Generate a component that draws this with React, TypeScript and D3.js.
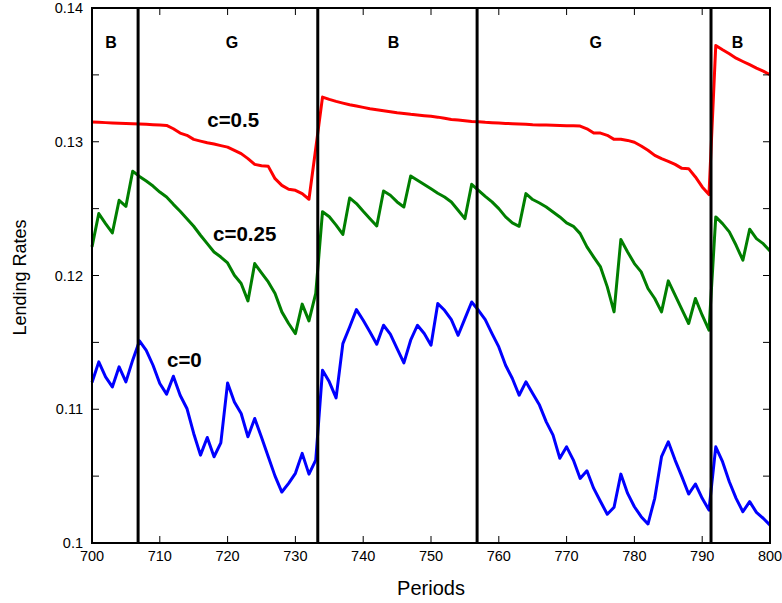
import React, { useEffect, useRef } from 'react';
import * as d3 from 'd3';

// periods 700..800
const periods: number[] = d3.range(700, 801);

const rateC0: number[] = [
  0.1120, 0.11354, 0.11242, 0.11167, 0.11317, 0.11205, 0.11367, 0.11511, 0.11441, 0.11329,
  0.11193, 0.11113, 0.11247, 0.11105, 0.11006, 0.10819, 0.10657, 0.10789, 0.10645, 0.10749,
  0.11197, 0.11055, 0.10968, 0.10794, 0.10931, 0.1079, 0.10645, 0.1050, 0.10381, 0.10446,
  0.10521, 0.10670, 0.10515, 0.10620, 0.11292, 0.11205, 0.11085, 0.11491, 0.11615, 0.11745,
  0.11665, 0.11578, 0.11486, 0.11628, 0.11561, 0.11454, 0.11347, 0.11516, 0.11628, 0.11566,
  0.11479, 0.11790, 0.11740, 0.11670, 0.11553, 0.11678, 0.11802, 0.11740, 0.11670, 0.11566,
  0.11466, 0.11329, 0.11230, 0.11105, 0.11205, 0.11118, 0.11031, 0.10906, 0.10807, 0.10633,
  0.10719, 0.10620, 0.10483, 0.10540, 0.10408, 0.10310, 0.10215, 0.10267, 0.10515, 0.10371,
  0.10271, 0.10197, 0.10142, 0.10334, 0.10645, 0.10757, 0.10620, 0.10496, 0.10366, 0.10441,
  0.10334, 0.10246, 0.10719, 0.10608, 0.10458, 0.10334, 0.10234, 0.10309, 0.10229, 0.10185,
  0.10134,
];

const rateC025: number[] = [
  0.12214, 0.12463, 0.12388, 0.12318, 0.12562, 0.12517, 0.12779, 0.12741, 0.12706, 0.12669,
  0.12624, 0.12587, 0.12532, 0.12480, 0.12425, 0.12368, 0.12301, 0.12238, 0.12176, 0.12138,
  0.12094, 0.12002, 0.11940, 0.11810, 0.12089, 0.1202, 0.11952, 0.11866, 0.11728, 0.11641,
  0.11566, 0.11786, 0.11661, 0.11866, 0.12477, 0.12439, 0.12377, 0.12307, 0.12580, 0.12538,
  0.12480, 0.12425, 0.12370, 0.12632, 0.12600, 0.12550, 0.12512, 0.12744, 0.12712, 0.12680,
  0.12648, 0.12615, 0.12587, 0.12550, 0.12488, 0.12425, 0.12682, 0.12637, 0.12592, 0.12550,
  0.12500, 0.12438, 0.12393, 0.12368, 0.12612, 0.12568, 0.12542, 0.12512, 0.12475, 0.12438,
  0.12393, 0.12368, 0.12313, 0.12214, 0.12138, 0.12064, 0.11915, 0.11728, 0.12269, 0.12176,
  0.12089, 0.12027, 0.11903, 0.11828, 0.11728, 0.11960, 0.11853, 0.11746, 0.11641, 0.11828,
  0.11703, 0.11591, 0.12438, 0.12388, 0.12326, 0.12226, 0.12114, 0.12346, 0.12276, 0.12238,
  0.12183,
];

const rateC05: number[] = [
  0.13147, 0.13145, 0.13143, 0.13141, 0.13139, 0.13137, 0.13135, 0.13132, 0.13130, 0.13128,
  0.13125, 0.13122, 0.13097, 0.13065, 0.13048, 0.13018, 0.13005, 0.12993, 0.12983, 0.12971,
  0.12960, 0.12936, 0.12911, 0.12874, 0.12831, 0.12820, 0.12816, 0.12724, 0.12674, 0.12645,
  0.12637, 0.12612, 0.12570, 0.12950, 0.13334, 0.13317, 0.13302, 0.13289, 0.13277, 0.13267,
  0.13257, 0.13247, 0.13240, 0.13232, 0.13225, 0.13217, 0.13212, 0.13205, 0.13200, 0.13195,
  0.13190, 0.13184, 0.13175, 0.13167, 0.13162, 0.13157, 0.13152, 0.13150, 0.13145, 0.13142,
  0.13140, 0.13137, 0.13135, 0.13132, 0.13130, 0.13127, 0.13126, 0.13125, 0.13123, 0.13122,
  0.13120, 0.13119, 0.13117, 0.13097, 0.13065, 0.13065, 0.13048, 0.13018, 0.13018, 0.13010,
  0.12996, 0.12968, 0.12936, 0.12898, 0.12874, 0.12854, 0.12831, 0.12801, 0.12799, 0.12737,
  0.12662, 0.12605, 0.13720, 0.13688, 0.13658, 0.13625, 0.13600, 0.13576, 0.13551, 0.13528,
  0.13501,
];

const seriesNames = ['c=0.5', 'c=0.25', 'c=0'];
const seriesColors = ['#ff0000', '#007f00', '#0000ff'];
// label anchor (period, rate) for each curve label
const labelPeriods = [717.0, 717.85, 711.06];
const labelRates = [0.13107, 0.12255, 0.11314];

// regime switches and regime names
const switchPeriods = [706.8, 733.3, 756.8, 791.3];
const regimeNames = ['B', 'G', 'B', 'G', 'B'];
const regimeLabelPeriods = [702.8, 720.65, 744.47, 774.3, 795.2];

const xTicks = d3.range(700, 801, 10);
const yMajor = [0.1, 0.11, 0.12, 0.13, 0.14];
const yMinor = [0.105, 0.115, 0.125, 0.135];

const W = 782;
const H = 603;
const margin = { top: 8, right: 12, bottom: 60, left: 92 };

export default function App() {
  const ref = useRef<SVGSVGElement>(null);

  useEffect(() => {
    const svg = d3.select(ref.current);
    svg.selectAll('*').remove();
    const font = 'Arial, "Liberation Sans", sans-serif';

    const x = d3.scaleLinear().domain([700, 800]).range([margin.left, W - margin.right]);
    const y = d3.scaleLinear().domain([0.1, 0.14]).range([H - margin.bottom, margin.top]);
    const [x0, x1] = x.range();
    const [y0, y1] = y.range();

    const series = [rateC05, rateC025, rateC0];
    const line = d3.line<number>()
      .x((_, i) => x(periods[i]))
      .y(d => y(d));

    series.forEach((s, i) => {
      svg.append('path')
        .datum(s)
        .attr('d', line)
        .attr('fill', 'none')
        .attr('stroke', seriesColors[i])
        .attr('stroke-width', 3)
        .attr('stroke-linejoin', 'round');
    });

    // regime switch lines
    svg.selectAll('line.switch')
      .data(switchPeriods)
      .enter()
      .append('line')
      .attr('x1', d => x(d)).attr('x2', d => x(d))
      .attr('y1', y1).attr('y2', y0)
      .attr('stroke', '#000')
      .attr('stroke-width', 3);

    // frame
    svg.append('rect')
      .attr('x', x0).attr('y', y1)
      .attr('width', x1 - x0).attr('height', y0 - y1)
      .attr('fill', 'none')
      .attr('stroke', '#000')
      .attr('stroke-width', 2);

    // ticks, inward on all sides
    const tk = 7;
    xTicks.forEach(t => {
      svg.append('line').attr('x1', x(t)).attr('x2', x(t)).attr('y1', y0).attr('y2', y0 - tk).attr('stroke', '#000').attr('stroke-width', 1);
      svg.append('line').attr('x1', x(t)).attr('x2', x(t)).attr('y1', y1).attr('y2', y1 + tk).attr('stroke', '#000').attr('stroke-width', 1);
    });
    [...yMajor, ...yMinor].forEach(t => {
      svg.append('line').attr('x1', x0).attr('x2', x0 + tk).attr('y1', y(t)).attr('y2', y(t)).attr('stroke', '#000').attr('stroke-width', 1);
      svg.append('line').attr('x1', x1).attr('x2', x1 - tk).attr('y1', y(t)).attr('y2', y(t)).attr('stroke', '#000').attr('stroke-width', 1);
    });

    // tick labels
    svg.selectAll('text.xt')
      .data(xTicks)
      .enter()
      .append('text')
      .attr('x', d => x(d))
      .attr('y', y0 + 18)
      .attr('text-anchor', 'middle')
      .style('font-family', font)
      .style('font-size', '14.5px')
      .text(d => String(d));
    svg.selectAll('text.yt')
      .data(yMajor)
      .enter()
      .append('text')
      .attr('x', x0 - 9)
      .attr('y', d => y(d) + 5)
      .attr('text-anchor', 'end')
      .style('font-family', font)
      .style('font-size', '14.5px')
      .text(d => String(d));

    // axis titles
    svg.append('text')
      .attr('x', (x0 + x1) / 2)
      .attr('y', 595)
      .attr('text-anchor', 'middle')
      .style('font-family', font)
      .style('font-size', '20px')
      .text('Periods');
    svg.append('text')
      .attr('transform', `translate(26,${(y0 + y1) / 2 + 2}) rotate(-90)`)
      .attr('text-anchor', 'middle')
      .style('font-family', font)
      .style('font-size', '18px')
      .text('Lending Rates');

    // regime labels
    regimeNames.forEach((r, i) => {
      svg.append('text')
        .attr('x', x(regimeLabelPeriods[i]))
        .attr('y', 48)
        .attr('text-anchor', 'middle')
        .style('font-family', font)
        .style('font-size', '16px')
        .style('font-weight', 'bold')
        .text(r);
    });

    // curve labels
    seriesNames.forEach((n, i) => {
      svg.append('text')
        .attr('x', x(labelPeriods[i]))
        .attr('y', y(labelRates[i]))
        .style('font-family', font)
        .style('font-size', '20.5px')
        .style('font-weight', 'bold')
        .text(n);
    });
  }, []);

  return (
    <div style={{ position: 'absolute', left: 0, top: 0 }}>
      <svg ref={ref} width={W} height={H} style={{ display: 'block', background: '#fff' }} />
    </div>
  );
}
